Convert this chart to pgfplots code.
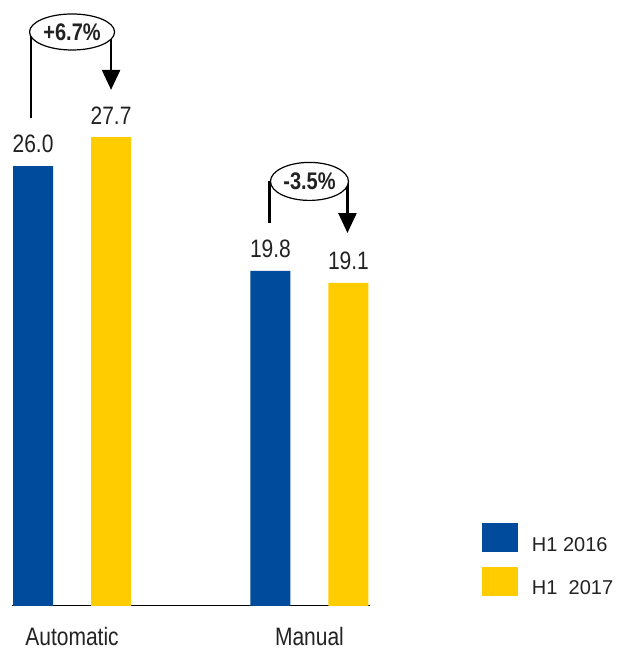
\documentclass[border=0pt]{standalone}
\usepackage{pgfplots}
\pgfplotsset{compat=1.18}
\usepackage{fontspec}
\setmainfont{Liberation Sans}
\usetikzlibrary{arrows.meta}
\definecolor{barblue}{RGB}{0,75,155}
\definecolor{baryellow}{RGB}{255,204,0}
\definecolor{txt}{RGB}{34,34,34}
\newcommand\lblfont{\fontsize{21}{25}\selectfont}
\newcommand\tall[1]{\scalebox{1}[1.2]{#1}}
\begin{document}
\begin{tikzpicture}
\useasboundingbox (0,0) rectangle (619pt,650pt);
\begin{axis}[
  at={(12pt,44pt)}, anchor=south west,
  scale only axis, width=358pt, height=596pt,
  xmin=-0.253, xmax=1.255, ymin=0, ymax=35.22,
  axis x line*=bottom, axis y line=none,
  x axis line style={line width=1pt, -},
  xtick={0,1}, xticklabels={\tall{Automatic},\tall{Manual}},
  major tick length=0pt, ytick=\empty,
  xticklabel style={inner sep=0pt, yshift=-21pt, font=\lblfont, text=txt},
  clip=false,
  /pgf/number format/assume math mode=true,
  nodes near coords={\tall{\pgfmathprintnumber[fixed,fixed zerofill,precision=1]{\pgfplotspointmeta}}},
  nodes near coords style={anchor=south, inner sep=0pt, yshift=13pt, font=\lblfont, text=txt},
  legend style={at={(1.3128,0.1393)}, anchor=north west, draw=none, fill=none,
    inner sep=0pt, outer sep=0pt, row sep=14pt, column sep=14pt,
    nodes={inner sep=0pt, outer sep=0pt}, font=\fontsize{20}{24}\selectfont, text=txt},
  legend cell align=left,
  legend image code/.code={\fill[#1] (0pt,-7pt) rectangle (36pt,22pt);},
]
\addplot[ybar, bar width=40pt, bar shift=-39pt, fill=barblue, draw=none,
  every node near coord/.append style={xshift=-39pt}]
  coordinates {(0,26.0) (1,19.8)};
\addlegendentry{H1 2016}
\addplot[ybar, bar width=40pt, bar shift=39pt, fill=baryellow, draw=none,
  every node near coord/.append style={xshift=39pt}]
  coordinates {(0,27.7) (1,19.1)};
\addlegendentry{H1\ \ 2017}

% change arrows
\draw[line width=2.5pt] ([xshift=-41pt]axis cs:0,28.84) -- ([xshift=-41pt]axis cs:0,33.92);
\draw[line width=2.5pt, -{Triangle[length=20pt,width=18pt]}]
  ([xshift=39pt]axis cs:0,33.92) -- ([xshift=39pt]axis cs:0,30.5);
\draw[line width=1.2pt, fill=white] (axis cs:0,33.92) ellipse [x radius=42.5pt, y radius=18pt];
\node[font=\bfseries\fontsize{20}{24}\selectfont, text=txt] at (axis cs:0,33.92) {\tall{+6.7\%}};

\draw[line width=2.5pt] ([xshift=-40pt]axis cs:1,22.64) -- ([xshift=-40pt]axis cs:1,25.09);
\draw[line width=2.5pt, -{Triangle[length=20pt,width=18pt]}]
  ([xshift=38pt]axis cs:1,25.09) -- ([xshift=38pt]axis cs:1,22.04);
\draw[line width=1.2pt, fill=white] (axis cs:1,25.09) ellipse [x radius=39pt, y radius=19pt];
\node[font=\bfseries\fontsize{20}{24}\selectfont, text=txt] at (axis cs:1,25.09) {\tall{-3.5\%}};
\end{axis}
\end{tikzpicture}
\end{document}
